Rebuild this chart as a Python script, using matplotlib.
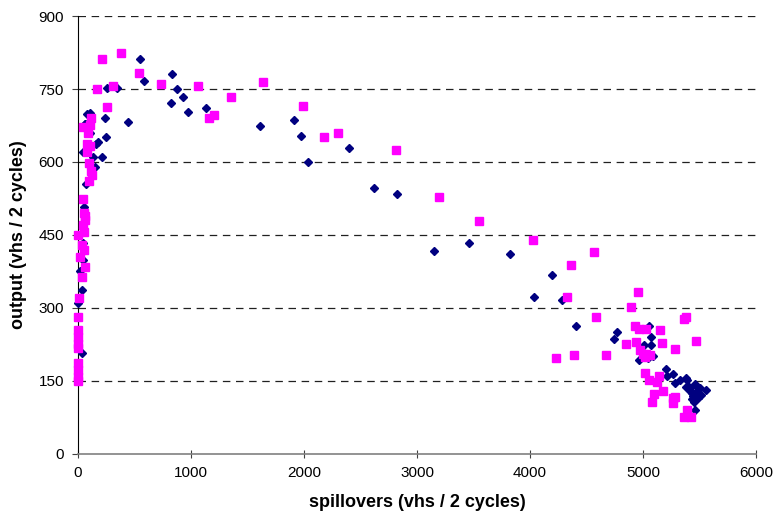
import matplotlib.pyplot as plt

plt.rcParams['font.family'] = ['Liberation Sans', 'DejaVu Sans']

# series 1 - dark blue diamonds
blue_x = [3, 18, 33, 33, 41, 47, 62, 53, 71, 47, 62, 77, 106, 106, 136, 150, 157, 180, 215,
          248, 239, 257, 342, 445, 549, 587, 829, 873, 820, 932, 971, 1133, 1611, 1914, 1971,
          2038, 2395, 2619, 2820, 3147, 3460, 3823, 4035, 4197, 4280, 4410, 4746, 4767, 5056,
          5068, 5012, 5068, 5091, 5041, 4967, 5204, 5268, 5215, 5280, 5327, 5377, 5392, 5463,
          5501, 5554, 5510, 5489, 5451, 5463, 5420, 5435, 5400, 5415, 5445, 5380, 5470, 5430]
blue_y = [310, 375, 337, 208, 433, 399, 678, 508, 555, 621, 678, 698, 700, 659, 610, 590, 638,
          642, 610, 651, 691, 753, 753, 683, 811, 767, 781, 751, 722, 733, 703, 711, 673, 686,
          653, 600, 629, 546, 534, 418, 434, 410, 323, 367, 316, 263, 237, 251, 264, 241, 224,
          223, 201, 198, 193, 175, 164, 160, 145, 151, 156, 152, 144, 136, 131, 122, 116, 106,
          90, 135, 125, 140, 130, 120, 138, 128, 112]

# series 2 - magenta squares
pink_x = [0, 53, 33, 53, 18, 62, 33, 12, 3, 3, 3, 3, 3, 3, 3, 3, 3, 47, 59, 53, 62, 47, 100,
          121, 112, 100, 77, 77, 106, 91, 47, 106, 112, 260, 171, 212, 313, 383, 543, 731,
          1059, 1640, 1351, 1156, 1201, 1988, 2180, 2304, 2811, 3198, 3552, 4029, 4360, 4325,
          4569, 4584, 4959, 4891, 5366, 5383, 4929, 4965, 5024, 5150, 4846, 4938, 5171, 5283,
          5472, 4973, 5000, 5030, 5060, 5020, 4227, 4389, 4670, 5021, 5050, 5144, 5121, 5177,
          5100, 5080, 5268, 5283, 5268, 5387, 5366, 5425]
pink_y = [450, 457, 429, 419, 404, 385, 363, 320, 281, 255, 241, 227, 217, 186, 172, 159, 149,
          470, 481, 495, 488, 524, 561, 573, 582, 597, 638, 620, 633, 659, 672, 676, 690, 714,
          749, 811, 757, 825, 783, 760, 757, 765, 734, 690, 697, 715, 651, 660, 625, 529, 478,
          440, 389, 323, 416, 281, 333, 301, 278, 281, 262, 256, 256, 255, 226, 230, 229, 216,
          233, 213, 205, 205, 204, 200, 197, 203, 204, 166, 152, 160, 147, 129, 123, 107, 114,
          118, 105, 90, 75, 76]

x_ticks = [0, 1000, 2000, 3000, 4000, 5000, 6000]
y_ticks = [0, 150, 300, 450, 600, 750, 900]

fig = plt.figure(figsize=(7.76, 5.18), dpi=100)
ax = fig.add_axes([0.1005, 0.1236, 0.8737, 0.8455])

ax.plot(blue_x, blue_y, linestyle='none', marker='D', markersize=3.9,
        color='#000080', clip_on=False, zorder=3)
ax.plot(pink_x, pink_y, linestyle='none', marker='s', markersize=5.4,
        color='#FF00FF', clip_on=False, zorder=3)

ax.set_xlim(0, 6000)
ax.set_ylim(0, 900)
ax.set_xticks(x_ticks)
ax.set_yticks(y_ticks)
ax.tick_params(labelsize=11, length=4, color='#404040', pad=6)
ax.tick_params(axis='x', direction='inout', length=6)

for y in y_ticks[1:]:
    ax.axhline(y, color='#202020', linestyle=(0, (6, 4.5)), linewidth=0.9, zorder=1)

ax.spines['top'].set_visible(False)
ax.spines['right'].set_visible(False)
ax.spines['left'].set_color('black')
ax.spines['bottom'].set_color('#808080')
ax.spines['bottom'].set_linewidth(1.2)

ax.set_xlabel('spillovers (vhs / 2 cycles)', fontsize=13, fontweight='bold', labelpad=10)
ax.set_ylabel('output (vhs / 2 cycles)', fontsize=13, fontweight='bold', labelpad=8)

fig.savefig('out.png', dpi=100)
